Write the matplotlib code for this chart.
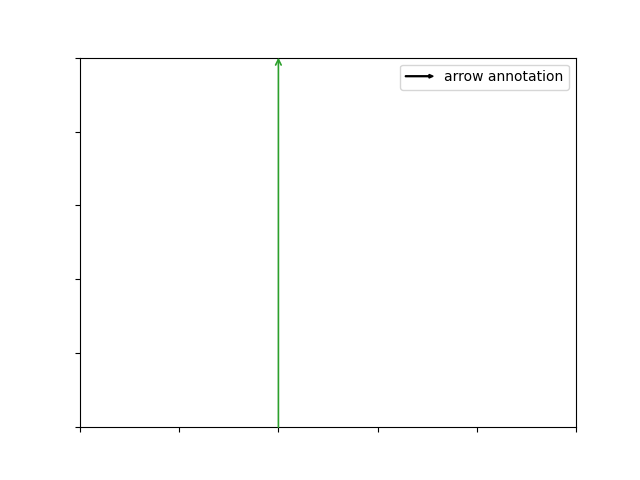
import matplotlib
matplotlib.use("Agg")
import matplotlib.pyplot as plt
import matplotlib.patches as mpatches
from matplotlib.legend_handler import HandlerPatch

arrow_x = 0.4
arrow_start = 0.0
arrow_end = 1.0
label = "arrow annotation"


def make_arrow(legend, orig_handle, xdescent, ydescent, width, height, fontsize):
    return mpatches.FancyArrow(0, height / 2, width, 0, width=0.6,
                               head_width=2.6, head_length=3.0,
                               length_includes_head=True,
                               facecolor="black", edgecolor="none", linewidth=0)


fig, ax = plt.subplots(figsize=(6.4, 4.8), dpi=100)

ax.annotate("", xy=(arrow_x, arrow_end), xytext=(arrow_x, arrow_start),
            arrowprops=dict(arrowstyle="->", color="tab:green", lw=1.2,
                            shrinkA=0, shrinkB=0,
                            mutation_scale=10))

ax.set_xlim(0, 1)
ax.set_ylim(0, 1)
ax.set_xticklabels([])
ax.set_yticklabels([])

proxy = mpatches.FancyArrow(0, 0, 1, 0, color="black")
ax.legend([proxy], [label], loc="upper right",
          handler_map={mpatches.FancyArrow: HandlerPatch(patch_func=make_arrow)})

plt.savefig("out.png", dpi=100)
